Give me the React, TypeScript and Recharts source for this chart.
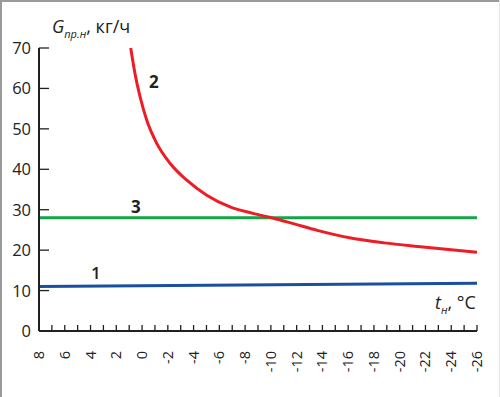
import { LineChart, Line, XAxis, YAxis } from "recharts";

// Температура наружного воздуха, °C (ось идёт справа налево: 8 … -26)
const xTicks = [8, 7, 6, 5, 4, 3, 2, 1, 0, -1, -2, -3, -4, -5, -6, -7, -8, -9, -10, -11, -12, -13, -14, -15, -16, -17, -18, -19, -20, -21, -22, -23, -24, -25, -26];
const yTicks = [0, 10, 20, 30, 40, 50, 60, 70];

// кривая 1
const line1T = [8, -26];
const line1G = [11, 11.8];

// кривая 2
const line2T = [0.88, 0.55, 0.16, -0.36, -1.14, -2.17, -3.47, -5.02, -6.83, -8.6, -10.2, -11.8, -13.6, -16.2, -18.8, -21.4, -26];
const line2G = [70, 63.7, 58, 52.2, 46.4, 41.5, 37.3, 33.6, 30.7, 29.1, 27.9, 26.5, 24.9, 23, 21.8, 20.9, 19.5];

// кривая 3
const line3T = [8, -26];
const line3G = [28, 28];

const toRows = (t: number[], g: number[]) => t.map((v, i) => ({ t: v, g: g[i] }));

const AXIS = "#231f20";
const FONT = "'Open Sans', 'Noto Sans', sans-serif";

function XTick(props: any) {
  const { x, y, payload } = props;
  const v = payload.value as number;
  return (
    <g>
      {v !== 8 && <line x1={x} y1={y} x2={x} y2={y - 6} stroke={AXIS} strokeWidth={1.3} />}
      {v % 2 === 0 && (
        <text
          x={0}
          y={0}
          transform={`translate(${x + 5},${y + 20}) rotate(-90)`}
          textAnchor="end"
          fontSize={14.5}
          fill="#222"
          fontFamily={FONT}
        >
          {v}
        </text>
      )}
    </g>
  );
}

function YTick(props: any) {
  const { x, y, payload } = props;
  return (
    <g>
      {payload.value !== 0 && <line x1={x} y1={y} x2={x + 10} y2={y} stroke={AXIS} strokeWidth={1.3} />}
      <text x={x - 8} y={y + 6} textAnchor="end" fontSize={16.5} fill="#222" fontFamily={FONT}>
        {payload.value}
      </text>
    </g>
  );
}

export default function App() {
  return (
    <div style={{ position: "absolute", left: 0, top: 0, width: 500, height: 397, background: "#fff", fontFamily: FONT }}>
      <LineChart width={500} height={397} margin={{ top: 48, right: 23, bottom: 0, left: 0 }}>
        <XAxis
          type="number"
          dataKey="t"
          domain={[-26, 8]}
          reversed
          allowDataOverflow
          ticks={xTicks}
          interval={0}
          height={66}
          tickSize={0}
          tickMargin={0}
          tickLine={false}
          tick={<XTick />}
          axisLine={{ stroke: AXIS, strokeWidth: 2 }}
        />
        <YAxis
          type="number"
          dataKey="g"
          domain={[0, 70]}
          ticks={yTicks}
          interval={0}
          width={39}
          tickSize={0}
          tickMargin={0}
          tickLine={false}
          tick={<YTick />}
          axisLine={{ stroke: AXIS, strokeWidth: 2 }}
        />
        <Line data={toRows(line3T, line3G)} dataKey="g" stroke="#16a34a" strokeWidth={3} dot={false} isAnimationActive={false} />
        <Line data={toRows(line1T, line1G)} dataKey="g" stroke="#1a4ea0" strokeWidth={3} dot={false} isAnimationActive={false} />
        <Line data={toRows(line2T, line2G)} dataKey="g" type="monotone" stroke="#ee1c25" strokeWidth={3} dot={false} isAnimationActive={false} />
        <text x={52} y={33} fontSize={18} fill="#222" fontFamily={FONT}>
          <tspan fontStyle="italic">G</tspan>
          <tspan fontStyle="italic" fontSize={11} dy={5}>пр.н</tspan>
          <tspan dy={-5}>, кг/ч</tspan>
        </text>
        <text x={435} y={309} fontSize={18} fill="#222" fontFamily={FONT}>
          <tspan fontStyle="italic">t</tspan>
          <tspan fontStyle="italic" fontSize={11} dy={5}>н</tspan>
          <tspan dy={-5}>, °C</tspan>
        </text>
        <text x={149} y={88} fontSize={17} fontWeight="bold" fill="#222" fontFamily={FONT}>2</text>
        <text x={131} y={213} fontSize={17} fontWeight="bold" fill="#222" fontFamily={FONT}>3</text>
        <text x={91} y={279} fontSize={17} fontWeight={600} fill="#222" fontFamily={FONT}>1</text>
      </LineChart>
      <div style={{ position: "absolute", left: 0, top: 0, width: 500, height: 2, background: "#9a9a9a" }} />
      <div style={{ position: "absolute", left: 0, top: 0, width: 2, height: 397, background: "#9a9a9a" }} />
      <div style={{ position: "absolute", right: 0, top: 0, width: 1, height: 397, background: "#e6e6e6" }} />
    </div>
  );
}
